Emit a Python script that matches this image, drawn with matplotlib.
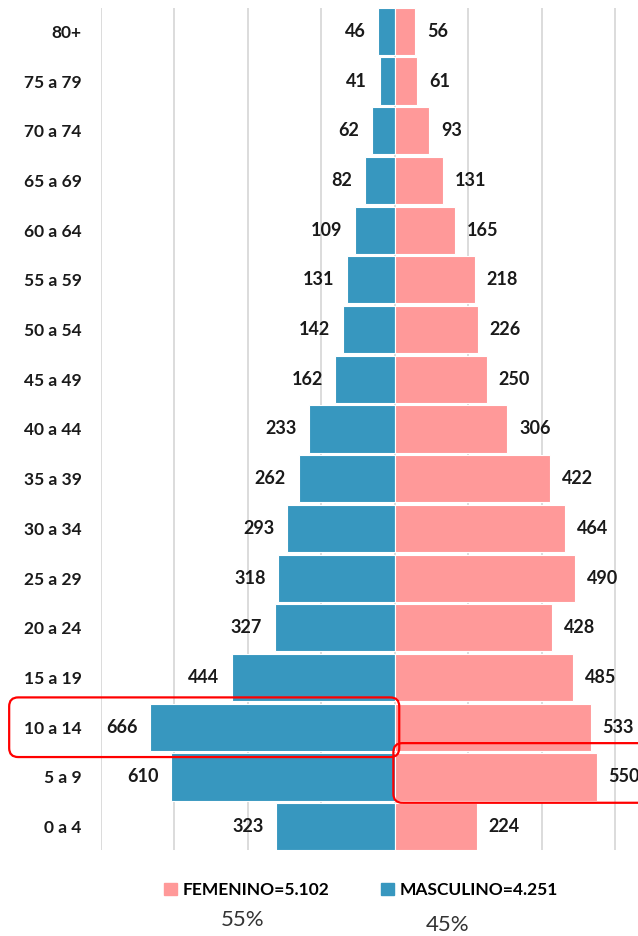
import matplotlib
matplotlib.use("Agg")
import matplotlib.pyplot as plt
from matplotlib.patches import FancyBboxPatch, Patch
from matplotlib.transforms import IdentityTransform
import numpy as np

plt.rcParams['font.family'] = ['Lato', 'DejaVu Sans']

# ---------- data (bottom to top)
age_groups = ["0 a 4", "5 a 9", "10 a 14", "15 a 19", "20 a 24", "25 a 29",
              "30 a 34", "35 a 39", "40 a 44", "45 a 49", "50 a 54",
              "55 a 59", "60 a 64", "65 a 69", "70 a 74", "75 a 79", "80+"]
masculino = [323, 610, 666, 444, 327, 318, 293, 262, 233, 162, 142, 131,
             109, 82, 62, 41, 46]
femenino = [224, 550, 533, 485, 428, 490, 464, 422, 306, 250, 226, 218,
            165, 131, 93, 61, 56]
legend_labels = ["FEMENINO=5.102", "MASCULINO=4.251"]
percent_labels = ["55%", "45%"]

blue = "#3797BF"
pink = "#FF9999"

fig = plt.figure(figsize=(6.38, 9.36), dpi=100)
ax = fig.add_axes([101 / 638, 86 / 936, 1 - 101 / 638, (850 - 8) / 936])

y = np.arange(len(age_groups))
ax.barh(y, [-m for m in masculino], height=0.95, color=blue,
        edgecolor="white", linewidth=0.8, zorder=3)
ax.barh(y, femenino, height=0.95, color=pink,
        edgecolor="white", linewidth=0.8, zorder=3)

for yi, m, f in zip(y, masculino, femenino):
    ax.text(-m - 34, yi, str(m), ha="right", va="center",
            fontsize=13, fontweight="bold", color="#1a1a1a")
    ax.text(f + 32, yi, str(f), ha="left", va="center",
            fontsize=13, fontweight="bold", color="#1a1a1a", clip_on=False)

ax.set_xticks(range(-800, 801, 200))
ax.set_xticklabels([])
ax.set_xlim(-800, 662)
ax.set_yticks(y)
ax.set_yticklabels(age_groups, fontsize=12.5, fontweight="bold",
                   color="#1a1a1a")
ax.set_ylim(-0.47, len(age_groups) - 0.53)
ax.tick_params(axis="both", length=0)
ax.tick_params(axis="y", pad=14)
ax.grid(axis="x", color="#D9D9D9", linewidth=1.3, zorder=0)
for sp in ax.spines.values():
    sp.set_visible(False)

# red highlight boxes (in pixels)
fig.canvas.draw()
def red_box(x0, x1, y0, y1):
    (px0, py0) = ax.transData.transform((x0, y0))
    (px1, py1) = ax.transData.transform((x1, y1))
    box = FancyBboxPatch((px0, py0), px1 - px0, py1 - py0,
                         boxstyle="round,pad=0,rounding_size=9",
                         transform=IdentityTransform(), fill=False,
                         edgecolor="#FF0000", linewidth=1.6, zorder=10)
    fig.add_artist(box)

red_box(-1050, 12, 2 - 0.6, 2 + 0.6)
red_box(-4, 700, 1 - 0.52, 1 + 0.68)

# legend
handles = [Patch(color=pink), Patch(color=blue)]
fig.legend(handles, legend_labels, loc="center", ncol=2,
           bbox_to_anchor=(361 / 638, 1 - 890 / 936), frameon=False,
           handlelength=0.75, handleheight=0.75, handletextpad=0.3,
           columnspacing=3.0,
           prop={"size": 12.5, "weight": "bold"})

fig.text(243 / 638, 1 - 920 / 936, percent_labels[0], ha="center",
         va="center", fontsize=16, color="#333333")
fig.text(448 / 638, 1 - 925 / 936, percent_labels[1], ha="center",
         va="center", fontsize=16, color="#333333")

fig.savefig("out.png", dpi=100)
